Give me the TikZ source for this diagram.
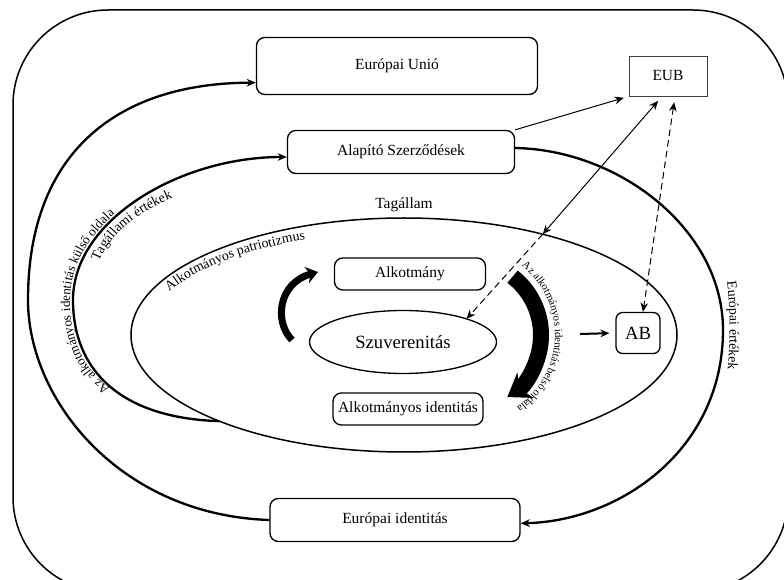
\documentclass[tikz,border=0pt]{standalone}
\usepackage{fontspec}
\setmainfont{Liberation Serif}
\usetikzlibrary{shapes.geometric, arrows.meta, decorations.text, positioning}

\newcommand{\dobozfont}{\fontsize{9.3}{11}\selectfont}
\newcommand{\nagyfont}{\fontsize{11.2}{13}\selectfont}
\newcommand{\ivfont}{\fontsize{8.3}{9}\selectfont}
\newcommand{\kulsofont}{\fontsize{7.9}{9}\selectfont}
\newcommand{\belsofont}{\fontsize{6.5}{7}\selectfont}

\tikzset{
  doboz/.style={draw, rounded corners=5pt, line width=0.8pt, inner sep=2pt, font=\dobozfont},
  ivvonal/.style={line width=1.4pt},
  vekony/.style={line width=0.6pt},
  szagg/.style={line width=0.6pt, dash pattern=on 4pt off 2.5pt},
  ivszoveg/.style={decorate, decoration={text along path, text={|\ivfont|#1}}}
}

\begin{document}
\begin{tikzpicture}[x=0.6pt, y=-0.6pt, >={Stealth[length=5.5pt,width=4.6pt]}]
            \useasboundingbox (0,0) rectangle (784,580);
            \begin{scope}
              \clip (0,0) rectangle (784,580);
              \draw[line width=0.9pt, rounded corners=57pt] (13,10) rectangle (788,592);
            \end{scope}

            % Dobozok
            \node[doboz, minimum width=168.6pt, minimum height=34.2pt] (eu) at (397,66) {Európai Unió};
            \node[doboz, minimum width=136.2pt, minimum height=25.8pt] (alap) at (401,152) {Alapító Szerződések};
            \node[draw=black!75, line width=0.5pt, minimum width=46.8pt, minimum height=24pt, font=\dobozfont] (eub) at (668,76) {EUB};
            \node[doboz, minimum width=150pt, minimum height=25.8pt] (ei) at (395,520) {Európai identitás};

            % Tagállam
            \node[ellipse, draw, line width=0.9pt, minimum width=327.6pt, minimum height=140.4pt, inner sep=0pt, outer sep=0pt] (tag) at (404,335) {};
            \node[above=0pt of tag.north, font=\dobozfont] (tagcim) {Tagállam};
            \node[doboz, minimum width=90.6pt, minimum height=19.2pt] (alk) at (410,274) {Alkotmány};
            \node[ellipse, draw, line width=0.8pt, minimum width=112.2pt, minimum height=37.8pt, inner sep=0pt, outer sep=0pt, font=\nagyfont] (szuv) at (403,342) {Szuverenitás};
            \node[doboz, minimum width=90pt, minimum height=19.2pt] (aid) at (408,409) {Alkotmányos identitás};
            \node[doboz, rounded corners=4pt, minimum width=26.4pt, minimum height=24.6pt, font=\nagyfont] (ab) at (638,333) {AB};

            % Nagy ívek
            \draw[ivvonal, ->] (ei.west) .. controls (120,515) and (28,400) .. (28,300)
                  .. controls (28,150) and (120,83) .. ([yshift=-10pt]eu.west);
            \draw[ivvonal, ->] (tag.205) .. controls (120,418) and (73,370) .. (73,300)
                  .. controls (73,220) and (180,157) .. ([yshift=-3pt]alap.west);
            \draw[ivvonal, ->] ([yshift=2.4pt]alap.east) .. controls (620,150) and (723,230) .. (723,330)
                  .. controls (723,450) and (620,521) .. ([yshift=-2pt]ei.east);

            % EUB nyilak
            \draw[vekony, ->, shorten >=3pt] (alap.north east) -- (eub.south west);
            \draw[vekony, <->, shorten >=3.5pt] (tag.36) -- ([xshift=-3.6pt]eub.south);
            \draw[szagg, ->] (tag.36) -- (szuv.20);
            \draw[szagg, <->, shorten <=3.5pt] ([xshift=4.2pt]eub.south) -- ([xshift=3pt]ab.north);

            \coordinate (abbal) at (580,334);
            \draw[line width=1.2pt, ->, shorten >=3.5pt] (abbal) -- (ab.west);

            % Vastag környilak
            \draw[line width=4.2pt, -{Stealth[length=7pt,width=10pt]}] (292,340) .. controls (274,322) and (278,283) .. (318,272);
            \draw[line width=9.6pt, -{Stealth[length=13pt,width=18pt]}] (467,335) ++(-52:74) arc[start angle=-52, end angle=57, radius=74];

            % Íves feliratok
            \path[decorate, decoration={text along path, text={|\kulsofont|Az alkotmányos identitás külső oldala}}]
                  (110,388) .. controls (84,370) and (70,342) .. (70,300)
                  .. controls (70,219) and (179,154) .. (288,154);
            \path[ivszoveg={Tagállami értékek}] (99,262) .. controls (115,222) and (165,190) .. (250,179);
            \path[ivszoveg={Alkotmányos patriotizmus}] (404,335) ++(-155:259 and 103) arc[start angle=-155, end angle=-95, x radius=259, y radius=103];
            \path[ivszoveg={Európai értékek}] (727,282) .. controls (731,315) and (731,355) .. (724,400);
            \path[decorate, decoration={text along path, text={|\belsofont|Az alkotmányos  identitás  belső  oldala},
                  text align=center}]
                  (467,335) ++(-58:88) arc[start angle=-58, end angle=62, radius=88];
        \end{tikzpicture}
\end{document}
